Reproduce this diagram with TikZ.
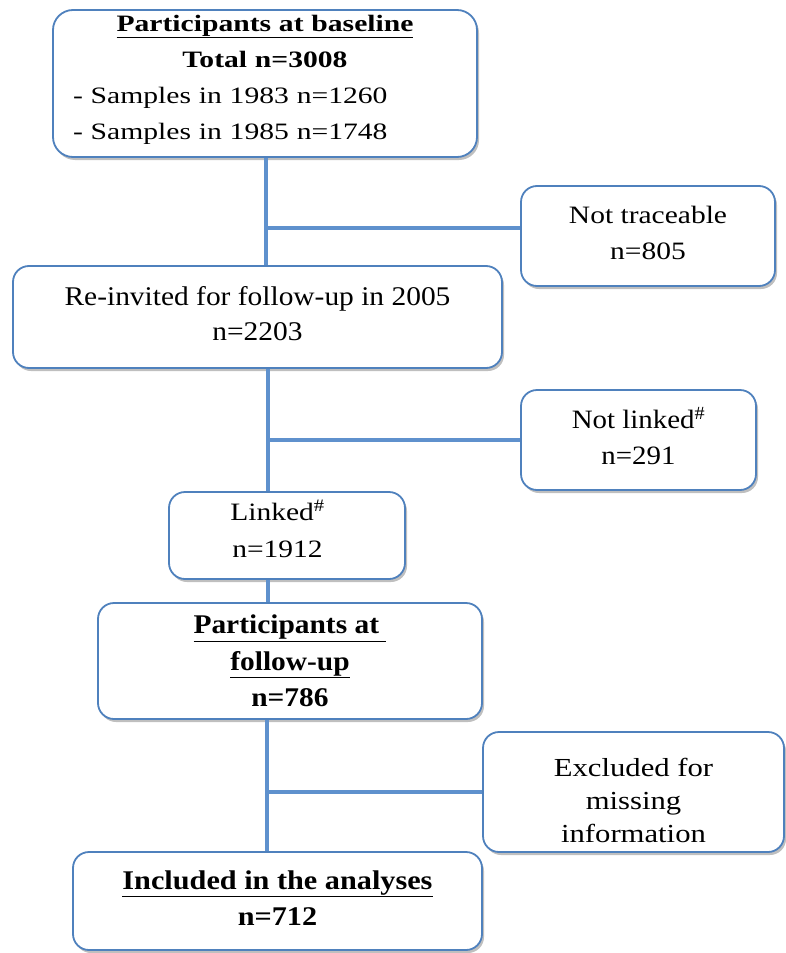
\documentclass[tikz,border=0pt]{standalone}
\usepackage{fontspec}
\setmainfont{Liberation Serif}
\newfontfamily\fA[FakeStretch=1.26]{Liberation Serif}
\newfontfamily\fB[FakeStretch=1.18]{Liberation Serif}
\newfontfamily\fC[FakeStretch=1.09]{Liberation Serif}
\newfontfamily\fD[FakeStretch=1.12]{Liberation Serif}
\newcommand{\xdp}[1]{\rule[-#1]{0pt}{#1}}
\newcommand{\xht}[1]{\rule{0pt}{#1}}
\usetikzlibrary{shadows}
\definecolor{boxblue}{RGB}{79,129,189}
\definecolor{lineblue}{RGB}{95,145,205}
\tikzset{
  flowbox/.style={draw=boxblue, line width=1.8pt, fill=white, rounded corners=16pt,
    inner sep=0pt, align=center,
    drop shadow={shadow xshift=2pt, shadow yshift=-3pt, opacity=0.25, fill=black}},
  conn/.style={draw=lineblue, line width=4.5pt}
}
\begin{document}
\begin{tikzpicture}[x=1pt,y=-1pt]
\useasboundingbox (0,0) rectangle (785,953);
% boxes
\node[flowbox, rounded corners=20pt, minimum width=424pt, minimum height=147pt,
      text width=384pt, inner xsep=20pt, align=left,
      font=\fA\fontsize{23.5}{36}\selectfont] (b1) at (265,83.5)
  {{\centering\bfseries\underline{Participants at baseline}\\Total n=3008\par}
   - Samples in 1983 n=1260\\
   - Samples in 1985 n=1748\xdp{13pt}};
\node[flowbox, minimum width=254pt, minimum height=100pt,
      font=\fB\fontsize{25}{36}\selectfont] (nt) at (648,236)
  {Not traceable\\n=805\xdp{6pt}};
\node[flowbox, minimum width=489pt, minimum height=102pt,
      font=\fC\fontsize{27}{35}\selectfont] (reinv) at (257.5,317)
  {Re-invited for follow-up in 2005\\n=2203\xdp{8pt}};
\node[flowbox, minimum width=235pt, minimum height=100pt,
      font=\fC\fontsize{26.5}{36}\selectfont] (nl) at (638.5,440)
  {Not linked\textsuperscript{\#}\\n=291\xdp{8pt}};
\node[flowbox, minimum width=236pt, minimum height=87pt,
      font=\fB\fontsize{25}{37}\selectfont] (lk) at (287,535.5)
  {Linked\textsuperscript{\#}\hspace*{19pt}\\n=1912\hspace*{19pt}\xdp{14pt}};
\node[flowbox, minimum width=384pt, minimum height=116pt,
      font=\fC\bfseries\fontsize{27}{36.5}\selectfont] (fu) at (290,661)
  {\underline{Participants at\ }\\\underline{follow-up}\\n=786};
\node[flowbox, minimum width=301pt, minimum height=120pt,
      font=\fB\fontsize{26}{33}\selectfont] (ex) at (633.5,792)
  {\xht{36pt}Excluded for\\missing\\information};
\node[flowbox, minimum width=409pt, minimum height=98pt,
      font=\fD\bfseries\fontsize{27}{36}\selectfont] (inc) at (277.5,901)
  {\underline{Included in the analyses}\\n=712\xdp{6pt}};
% spine positions
\coordinate (s1) at (266,0);
\coordinate (s2) at (268,0);
\coordinate (s3) at (267,0);
% connectors
\draw[conn] (b1.south -| s1) -- (reinv.north -| s1);
\draw[conn] ([yshift=8pt]nt.west -| s1) -- ([yshift=8pt]nt.west);
\draw[conn] (reinv.south -| s2) -- (lk.north -| s2);
\draw[conn] (nl.west -| s2) -- (nl.west);
\draw[conn] (lk.south -| s2) -- (fu.north -| s2);
\draw[conn] (fu.south -| s3) -- (inc.north -| s3);
\draw[conn] (ex.west -| s3) -- (ex.west);
\end{tikzpicture}
\end{document}
